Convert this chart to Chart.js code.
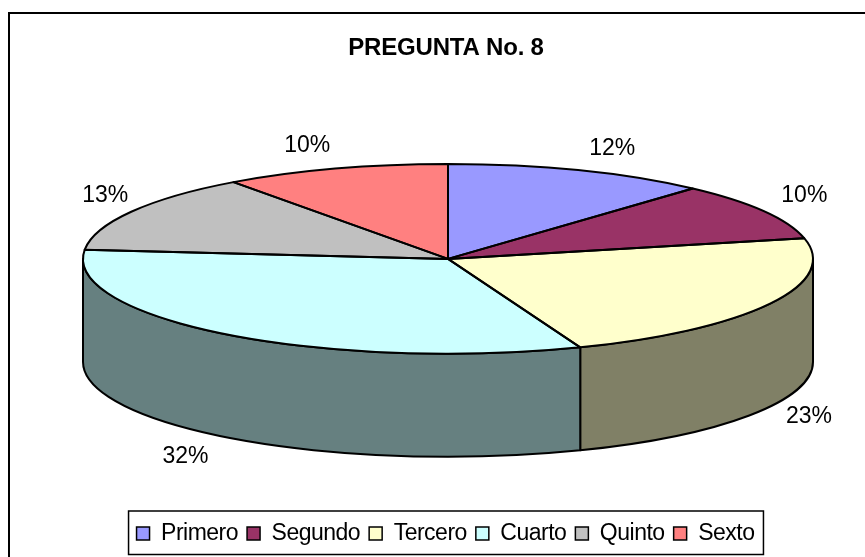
<!DOCTYPE html>
<html><head><meta charset="utf-8">
<style>html,body{margin:0;padding:0;background:#fff}canvas{display:block}</style>
<script src="https://cdn.jsdelivr.net/npm/chart.js@4"></script></head>
<body><canvas id="c" width="865" height="557"></canvas>
<script>
const categories = ['Primero','Segundo','Tercero','Cuarto','Quinto','Sexto'];
const values = [11.7,9.8,22.6,32.45,13.45,10];
const colors = ['#9999FF','#993366','#FFFFCC','#CCFFFF','#C0C0C0','#FF8080'];
const sideColors = ['#4C4C80','#4C1933','#808066','#668080','#606060','#804040'];
const titleText = 'PREGUNTA No. 8';
const K = 0.26, DEPTH = 103, RADIUS = 365, LEGEND_LIFT = 60;
const labelNudge = [[33,-22],[41,-15],[39,10],[-42,19],[-26,-16],[-28,-23]];
const font = '"Liberation Sans", Arial, sans-serif';
const canvas = document.getElementById('c');
const LS = '-0.5px';

const pie3d = {
  id:'pie3d',
  beforeLayout(chart){ chart.ctx.letterSpacing = LS; },
  beforeDraw(chart){
    const c = chart.ctx;
    c.letterSpacing = LS;
    c.save();
    c.fillStyle='#fff'; c.fillRect(0,0,865,557);
    c.strokeStyle='#000'; c.lineWidth=2;
    c.strokeRect(9,13,900,600);
    c.restore();
  },
  afterLayout(chart){
    const L=chart.legend, T=chart.titleBlock;
    L.left -= 2.5; L.right -= 2.5; L.top += LEGEND_LIFT-2; L.bottom += LEGEND_LIFT-2;
    T.left -= 2; T.right -= 2;
    if(!T._wrapped){
      const d=T.draw.bind(T);
      T.draw=function(){ const c=chart.ctx; c.save(); c.letterSpacing='-0.2px'; d(); c.restore(); };
      T._wrapped=true;
    }
  },
  beforeDatasetsDraw(chart){
    const c = chart.ctx, arcs = chart.getDatasetMeta(0).data;
    const {x:cx,y:cy} = arcs[0];
    const R = arcs[0].outerRadius, ry = R*K;
    c.save();
    arcs.forEach((a,i)=>{
      const s = Math.max(a.startAngle,0), e = Math.min(a.endAngle,Math.PI);
      if(e<=s) return;
      c.beginPath();
      c.ellipse(cx,cy,R,ry,0,s,e);
      c.ellipse(cx,cy+DEPTH,R,ry,0,e,s,true);
      c.closePath();
      c.fillStyle = sideColors[i]; c.fill();
      c.strokeStyle='#000'; c.lineWidth=2; c.lineJoin='round'; c.stroke();
    });
    c.restore();
    c.save();
    c.translate(cx,cy); c.scale(1,K); c.translate(-cx,-cy);
  },
  afterDatasetsDraw(chart){
    const c = chart.ctx, arcs = chart.getDatasetMeta(0).data;
    c.restore();
    const {x:cx,y:cy} = arcs[0];
    const R = arcs[0].outerRadius, ry = R*K;
    c.save();
    c.strokeStyle='#000'; c.lineWidth=2; c.lineJoin='round';
    arcs.forEach(a=>{
      c.beginPath(); c.moveTo(cx,cy);
      c.ellipse(cx,cy,R,ry,0,a.startAngle,a.endAngle);
      c.closePath(); c.stroke();
    });
    const total = values.reduce((p,v)=>p+v,0);
    c.fillStyle='#000'; c.font='23px '+font; c.letterSpacing='0px';
    c.textAlign='center'; c.textBaseline='middle';
    arcs.forEach((a,i)=>{
      const m=(a.startAngle+a.endAngle)/2;
      const down = Math.sin(m)>0 ? DEPTH*(Math.sin(m)>0.3?1:0) : 0;
      const x=cx+R*Math.cos(m)+labelNudge[i][0], y=cy+ry*Math.sin(m)+down+labelNudge[i][1];
      c.fillText(Math.round(values[i]/total*100)+'%',x,y);
    });
    c.restore();
  },
  afterDraw(chart){
    const c = chart.ctx, hb = chart.legend.legendHitBoxes;
    const first=hb[0], last=hb[hb.length-1];
    c.save(); c.strokeStyle='#000'; c.lineWidth=1.5;
    c.strokeRect(first.left-8,first.top-11,last.left+last.width-first.left+17,43.5);
    c.restore();
  }
};

new Chart(canvas,{
  type:'pie',
  data:{labels:categories,datasets:[{data:values,backgroundColor:colors,borderWidth:0}]},
  plugins:[pie3d],
  options:{
    responsive:false,animation:false,radius:RADIUS,
    layout:{padding:{left:31,right:0,top:34,bottom:LEGEND_LIFT}},
    plugins:{
      tooltip:{enabled:false},
      title:{display:true,text:titleText,color:'#000',font:{family:font,size:24,weight:'bold'},padding:{top:0,bottom:0}},
      legend:{position:'bottom',labels:{
        color:'#000',font:{family:font,size:23},boxWidth:13,boxHeight:13,padding:9,
        generateLabels(chart){return categories.map((t,i)=>({text:t,fillStyle:colors[i],strokeStyle:'#000',lineWidth:1.5,index:i,fontColor:'#000'}));}
      }}
    }
  }
});
</script></body></html>
